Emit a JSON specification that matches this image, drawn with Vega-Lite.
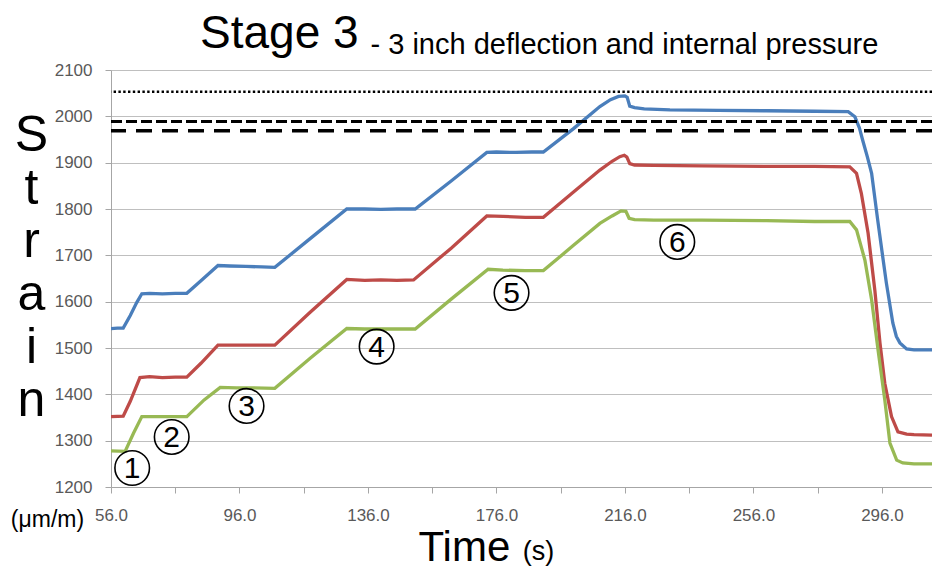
{
  "$schema": "https://vega.github.io/schema/vega-lite/v6.json",
  "width": 821,
  "height": 417,
  "autosize": {"type": "none"},
  "padding": {"left": 111, "top": 70, "right": 0, "bottom": 82},
  "background": "white",
  "title": {
    "text": "Stage 3",
    "anchor": "start",
    "frame": "group",
    "font": "Liberation Sans",
    "fontSize": 46,
    "fontWeight": "normal",
    "color": "#000000",
    "baseline": "alphabetic",
    "offset": 0,
    "dx": 89,
    "dy": 64
  },
  "config": {
    "view": {"stroke": null},
    "axis": {
      "labelFont": "Liberation Sans",
      "titleFont": "Liberation Sans",
      "titleFontWeight": "normal",
      "titleColor": "#000000"
    }
  },
  "resolve": {"axis": {"x": "independent", "y": "independent"}},
  "layer": [
    {
      "data": {
        "values": [
          {"gauge": "SG-1", "t": 56, "s": 1542}, {"gauge": "SG-1", "t": 58, "s": 1543}, {"gauge": "SG-1", "t": 59.8, "s": 1543},
          {"gauge": "SG-1", "t": 62, "s": 1570}, {"gauge": "SG-1", "t": 64, "s": 1598}, {"gauge": "SG-1", "t": 65.6, "s": 1617},
          {"gauge": "SG-1", "t": 68, "s": 1618}, {"gauge": "SG-1", "t": 72, "s": 1617}, {"gauge": "SG-1", "t": 76, "s": 1618},
          {"gauge": "SG-1", "t": 79.6, "s": 1618}, {"gauge": "SG-1", "t": 84, "s": 1645}, {"gauge": "SG-1", "t": 89.3, "s": 1678},
          {"gauge": "SG-1", "t": 93, "s": 1677}, {"gauge": "SG-1", "t": 98, "s": 1676}, {"gauge": "SG-1", "t": 103, "s": 1675},
          {"gauge": "SG-1", "t": 107, "s": 1674}, {"gauge": "SG-1", "t": 118, "s": 1736}, {"gauge": "SG-1", "t": 129.4, "s": 1800},
          {"gauge": "SG-1", "t": 135, "s": 1800}, {"gauge": "SG-1", "t": 140, "s": 1799}, {"gauge": "SG-1", "t": 145, "s": 1800},
          {"gauge": "SG-1", "t": 150.7, "s": 1800}, {"gauge": "SG-1", "t": 162, "s": 1861}, {"gauge": "SG-1", "t": 173, "s": 1922},
          {"gauge": "SG-1", "t": 176, "s": 1923}, {"gauge": "SG-1", "t": 182, "s": 1922}, {"gauge": "SG-1", "t": 187, "s": 1923},
          {"gauge": "SG-1", "t": 190.6, "s": 1923}, {"gauge": "SG-1", "t": 199.9, "s": 1973}, {"gauge": "SG-1", "t": 208.2, "s": 2021},
          {"gauge": "SG-1", "t": 211.5, "s": 2036}, {"gauge": "SG-1", "t": 214, "s": 2043}, {"gauge": "SG-1", "t": 216, "s": 2044},
          {"gauge": "SG-1", "t": 216.7, "s": 2041}, {"gauge": "SG-1", "t": 217.5, "s": 2022}, {"gauge": "SG-1", "t": 219, "s": 2019},
          {"gauge": "SG-1", "t": 222, "s": 2016}, {"gauge": "SG-1", "t": 230, "s": 2014}, {"gauge": "SG-1", "t": 245, "s": 2013},
          {"gauge": "SG-1", "t": 260, "s": 2012}, {"gauge": "SG-1", "t": 275, "s": 2011}, {"gauge": "SG-1", "t": 285.5, "s": 2010},
          {"gauge": "SG-1", "t": 287.6, "s": 1999}, {"gauge": "SG-1", "t": 289, "s": 1975}, {"gauge": "SG-1", "t": 290, "s": 1949},
          {"gauge": "SG-1", "t": 291.5, "s": 1912}, {"gauge": "SG-1", "t": 292.8, "s": 1877}, {"gauge": "SG-1", "t": 294.7, "s": 1776},
          {"gauge": "SG-1", "t": 296.4, "s": 1690}, {"gauge": "SG-1", "t": 297.4, "s": 1640}, {"gauge": "SG-1", "t": 299.4, "s": 1554},
          {"gauge": "SG-1", "t": 300.5, "s": 1525}, {"gauge": "SG-1", "t": 301.6, "s": 1511}, {"gauge": "SG-1", "t": 303.7, "s": 1498},
          {"gauge": "SG-1", "t": 306, "s": 1496}, {"gauge": "SG-1", "t": 311.6, "s": 1496},

          {"gauge": "SG-2", "t": 56, "s": 1352}, {"gauge": "SG-2", "t": 59.8, "s": 1353}, {"gauge": "SG-2", "t": 62, "s": 1385},
          {"gauge": "SG-2", "t": 65, "s": 1436}, {"gauge": "SG-2", "t": 68, "s": 1438}, {"gauge": "SG-2", "t": 72, "s": 1436},
          {"gauge": "SG-2", "t": 76, "s": 1437}, {"gauge": "SG-2", "t": 79.6, "s": 1437}, {"gauge": "SG-2", "t": 84, "s": 1467},
          {"gauge": "SG-2", "t": 89.3, "s": 1506}, {"gauge": "SG-2", "t": 95, "s": 1506}, {"gauge": "SG-2", "t": 100, "s": 1506},
          {"gauge": "SG-2", "t": 107, "s": 1506}, {"gauge": "SG-2", "t": 118, "s": 1577}, {"gauge": "SG-2", "t": 129.4, "s": 1648},
          {"gauge": "SG-2", "t": 135, "s": 1646}, {"gauge": "SG-2", "t": 140, "s": 1647}, {"gauge": "SG-2", "t": 145, "s": 1646},
          {"gauge": "SG-2", "t": 150.2, "s": 1647}, {"gauge": "SG-2", "t": 162, "s": 1716}, {"gauge": "SG-2", "t": 173, "s": 1785},
          {"gauge": "SG-2", "t": 178, "s": 1784}, {"gauge": "SG-2", "t": 185, "s": 1782}, {"gauge": "SG-2", "t": 190.6, "s": 1782},
          {"gauge": "SG-2", "t": 199.9, "s": 1836}, {"gauge": "SG-2", "t": 208.2, "s": 1884}, {"gauge": "SG-2", "t": 212, "s": 1903},
          {"gauge": "SG-2", "t": 214.4, "s": 1913}, {"gauge": "SG-2", "t": 215.8, "s": 1916}, {"gauge": "SG-2", "t": 216.6, "s": 1912},
          {"gauge": "SG-2", "t": 217.5, "s": 1898}, {"gauge": "SG-2", "t": 219, "s": 1895}, {"gauge": "SG-2", "t": 225, "s": 1894},
          {"gauge": "SG-2", "t": 240, "s": 1893}, {"gauge": "SG-2", "t": 260, "s": 1892}, {"gauge": "SG-2", "t": 275, "s": 1892},
          {"gauge": "SG-2", "t": 286, "s": 1891}, {"gauge": "SG-2", "t": 288.1, "s": 1877}, {"gauge": "SG-2", "t": 289.6, "s": 1834},
          {"gauge": "SG-2", "t": 291.7, "s": 1748}, {"gauge": "SG-2", "t": 293.8, "s": 1625}, {"gauge": "SG-2", "t": 295.4, "s": 1511},
          {"gauge": "SG-2", "t": 296.9, "s": 1424}, {"gauge": "SG-2", "t": 299, "s": 1352}, {"gauge": "SG-2", "t": 301, "s": 1319},
          {"gauge": "SG-2", "t": 303.7, "s": 1314}, {"gauge": "SG-2", "t": 306, "s": 1313}, {"gauge": "SG-2", "t": 311.6, "s": 1312},

          {"gauge": "SG-3", "t": 56, "s": 1278}, {"gauge": "SG-3", "t": 60.4, "s": 1277}, {"gauge": "SG-3", "t": 63, "s": 1316},
          {"gauge": "SG-3", "t": 65.6, "s": 1352}, {"gauge": "SG-3", "t": 70, "s": 1352}, {"gauge": "SG-3", "t": 75, "s": 1352},
          {"gauge": "SG-3", "t": 79.6, "s": 1352}, {"gauge": "SG-3", "t": 85, "s": 1388}, {"gauge": "SG-3", "t": 90, "s": 1415},
          {"gauge": "SG-3", "t": 95, "s": 1414}, {"gauge": "SG-3", "t": 100, "s": 1414}, {"gauge": "SG-3", "t": 107, "s": 1413},
          {"gauge": "SG-3", "t": 118, "s": 1478}, {"gauge": "SG-3", "t": 129.4, "s": 1542}, {"gauge": "SG-3", "t": 135, "s": 1541},
          {"gauge": "SG-3", "t": 140, "s": 1541}, {"gauge": "SG-3", "t": 145, "s": 1541}, {"gauge": "SG-3", "t": 150.7, "s": 1541},
          {"gauge": "SG-3", "t": 162, "s": 1606}, {"gauge": "SG-3", "t": 173.4, "s": 1670}, {"gauge": "SG-3", "t": 178, "s": 1668},
          {"gauge": "SG-3", "t": 185, "s": 1667}, {"gauge": "SG-3", "t": 190.6, "s": 1667}, {"gauge": "SG-3", "t": 199.9, "s": 1721},
          {"gauge": "SG-3", "t": 208.2, "s": 1769}, {"gauge": "SG-3", "t": 212, "s": 1785}, {"gauge": "SG-3", "t": 214.8, "s": 1796},
          {"gauge": "SG-3", "t": 216.3, "s": 1795}, {"gauge": "SG-3", "t": 217.3, "s": 1780}, {"gauge": "SG-3", "t": 219, "s": 1777},
          {"gauge": "SG-3", "t": 225, "s": 1776}, {"gauge": "SG-3", "t": 240, "s": 1776}, {"gauge": "SG-3", "t": 260, "s": 1775},
          {"gauge": "SG-3", "t": 275, "s": 1773}, {"gauge": "SG-3", "t": 286, "s": 1773}, {"gauge": "SG-3", "t": 288.1, "s": 1755},
          {"gauge": "SG-3", "t": 290.7, "s": 1690}, {"gauge": "SG-3", "t": 292.8, "s": 1604}, {"gauge": "SG-3", "t": 294.8, "s": 1496},
          {"gauge": "SG-3", "t": 296.9, "s": 1388}, {"gauge": "SG-3", "t": 298.5, "s": 1295}, {"gauge": "SG-3", "t": 300.6, "s": 1258},
          {"gauge": "SG-3", "t": 302.5, "s": 1252}, {"gauge": "SG-3", "t": 306, "s": 1250}, {"gauge": "SG-3", "t": 311.6, "s": 1250}
        ]
      },
      "mark": {"type": "line", "strokeWidth": 3.3, "clip": true},
      "encoding": {
        "x": {
          "field": "t",
          "type": "quantitative",
          "scale": {"domain": [56, 311.6], "nice": false, "zero": false},
          "axis": {
            "orient": "bottom",
            "values": [56, 76, 96, 116, 136, 156, 176, 196, 216, 236, 256, 276, 296],
            "labelExpr": "(datum.value - 56) % 40 === 0 ? format(datum.value, '.1f') : ''",
            "labelFontSize": 17,
            "labelColor": "#595959",
            "labelPadding": 14,
            "labelOverlap": false,
            "labelFlush": false,
            "tickSize": 6,
            "tickColor": "#A6A6A6",
            "domainColor": "#A6A6A6",
            "grid": false,
            "title": "Time",
            "titleFontSize": 42,
            "titleAlign": "left",
            "titleAnchor": null,
            "titleBaseline": "alphabetic",
            "titleX": 307,
            "titleY": 73
          }
        },
        "y": {
          "field": "s",
          "type": "quantitative",
          "scale": {"domain": [1200, 2100], "nice": false, "zero": false},
          "axis": {
            "orient": "left",
            "values": [1200, 1300, 1400, 1500, 1600, 1700, 1800, 1900, 2000, 2100],
            "format": "d",
            "labelFontSize": 17,
            "labelColor": "#595959",
            "labelPadding": 13,
            "tickSize": 6,
            "tickColor": "#A6A6A6",
            "domainColor": "#A6A6A6",
            "grid": true,
            "gridColor": "#BFBFBF",
            "gridWidth": 1,
            "title": ["S", "t", "r", "a", "i", "n"],
            "titleFontSize": 50,
            "titleLineHeight": 53,
            "titleAngle": 0,
            "titleAlign": "center",
            "titleAnchor": null,
            "titleBaseline": "alphabetic",
            "titleX": -80,
            "titleY": 80
          }
        },
        "color": {
          "field": "gauge",
          "type": "nominal",
          "scale": {"domain": ["SG-1", "SG-2", "SG-3"], "range": ["#4A7EBB", "#BE4B48", "#98B954"]},
          "legend": null
        }
      }
    },
    {
      "data": {
        "values": [
          {"limit": 2053, "kind": "dotted"},
          {"limit": 1989, "kind": "short dash"},
          {"limit": 1969, "kind": "long dash"}
        ]
      },
      "mark": {"type": "rule", "color": "#000000"},
      "encoding": {
        "y": {
          "field": "limit",
          "type": "quantitative",
          "scale": {"domain": [1200, 2100], "nice": false, "zero": false},
          "axis": {
            "orient": "right",
            "labels": false,
            "ticks": false,
            "domain": false,
            "grid": false,
            "title": "(μm/m)",
            "titleFontSize": 23,
            "titleAngle": 0,
            "titleAlign": "center",
            "titleAnchor": null,
            "titleBaseline": "alphabetic",
            "titleX": -885,
            "titleY": 456
          }
        },
        "strokeDash": {
          "field": "kind",
          "type": "nominal",
          "scale": {"domain": ["dotted", "short dash", "long dash"], "range": [[2.4, 2.4], [11, 4], [16, 10]]},
          "legend": null
        },
        "strokeWidth": {
          "field": "kind",
          "type": "nominal",
          "scale": {"domain": ["dotted", "short dash", "long dash"], "range": [2.5, 3.5, 3.5]},
          "legend": null
        }
      }
    },
    {
      "data": {
        "values": [
          {"t": 62.6, "s": 1241, "n": "1"},
          {"t": 74.9, "s": 1308, "n": "2"},
          {"t": 98.2, "s": 1375, "n": "3"},
          {"t": 138.7, "s": 1503, "n": "4"},
          {"t": 180.7, "s": 1619, "n": "5"},
          {"t": 232.3, "s": 1729, "n": "6"}
        ]
      },
      "mark": {"type": "point", "shape": "circle", "filled": false, "size": 1195, "stroke": "#000000", "strokeWidth": 1.6, "opacity": 1},
      "encoding": {
        "x": {
          "field": "t",
          "type": "quantitative",
          "scale": {"domain": [56, 311.6], "nice": false, "zero": false},
          "axis": {
            "orient": "top",
            "labels": false,
            "ticks": false,
            "domain": false,
            "grid": false,
            "title": "- 3 inch deflection and internal pressure",
            "titleFontSize": 29,
            "titleAlign": "left",
            "titleAnchor": null,
            "titleBaseline": "alphabetic",
            "titleX": 259,
            "titleY": -17
          }
        },
        "y": {"field": "s", "type": "quantitative", "scale": {"domain": [1200, 2100], "nice": false, "zero": false}, "axis": null}
      }
    },
    {
      "data": {
        "values": [
          {"t": 62.6, "s": 1241, "n": "1"},
          {"t": 74.9, "s": 1308, "n": "2"},
          {"t": 98.2, "s": 1375, "n": "3"},
          {"t": 138.7, "s": 1503, "n": "4"},
          {"t": 180.7, "s": 1619, "n": "5"},
          {"t": 232.3, "s": 1729, "n": "6"}
        ]
      },
      "mark": {"type": "text", "font": "Liberation Sans", "fontSize": 30, "color": "#000000", "baseline": "middle", "align": "center", "dy": 1},
      "encoding": {
        "x": {"field": "t", "type": "quantitative", "scale": {"domain": [56, 311.6], "nice": false, "zero": false}, "axis": null},
        "y": {"field": "s", "type": "quantitative", "scale": {"domain": [1200, 2100], "nice": false, "zero": false}, "axis": null},
        "text": {"field": "n"}
      }
    },
    {
      "data": {"values": [{"unit": "(s)"}]},
      "mark": {"type": "text", "font": "Liberation Sans", "fontSize": 27, "color": "#000000", "align": "left", "baseline": "alphabetic"},
      "encoding": {
        "x": {"datum": 184.2, "type": "quantitative", "scale": {"domain": [56, 311.6], "nice": false, "zero": false}, "axis": null},
        "y": {"datum": 1042, "type": "quantitative", "scale": {"domain": [1200, 2100], "nice": false, "zero": false}, "axis": null},
        "text": {"field": "unit"}
      }
    }
  ]
}
